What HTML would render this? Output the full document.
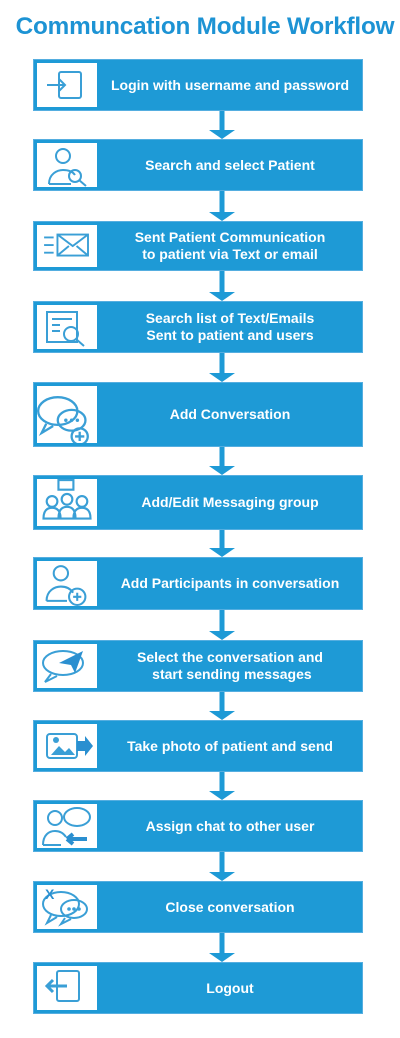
<!DOCTYPE html>
<html><head><meta charset="utf-8"><style>
body{margin:0;width:400px;height:1038px;background:#fff;position:relative;overflow:hidden;font-family:"Liberation Sans",Arial,sans-serif}
.title{position:absolute;top:13px;left:0;width:410px;text-align:center;font-size:24.3px;font-weight:bold;color:#1d93d4;letter-spacing:-0.2px}
.box{position:absolute;left:33px;width:328px;background:#1e9ad6;border:1px solid #55aee0}
.icon{position:absolute;left:3px;top:3px;bottom:3px;width:60px;background:#fff}
.icon svg{width:60px;height:100%}
.txt{position:absolute;left:64px;right:0;top:0;bottom:0;display:flex;align-items:center;justify-content:center;text-align:center;color:#fff;font-weight:bold;font-size:14px;line-height:17px}
.arrow{position:absolute;left:209px;width:26px}
</style></head><body>
<div class="title">Communcation Module Workflow</div>
<div id="flow"></div>
<script>
const steps=["Login with username and password","Search and select Patient","Sent Patient Communication<br>to patient via Text or email","Search list of Text/Emails<br>Sent to patient and users","Add Conversation","Add/Edit Messaging group","Add Participants in conversation","Select the conversation and<br>&nbsp;start sending messages","Take photo of patient and send","Assign chat to other user","Close conversation","Logout"];
const tops=[59,139,221,301,382,475,557,640,720,800,881,962];
const bottoms=[111,191,271,353,447,530,610,692,772,852,933,1014];
const names=["login","search-patient","send-communication","search-list","add-conversation","edit-group","add-participants","select-conversation","take-photo","assign-chat","close-conversation","logout"];
const S='fill="none" stroke="#3a9fd6" stroke-width="2"';
const icons=[
`<rect x="22" y="12" width="22" height="26" rx="2" ${S}/><path d="M10 25h18M22 19l6 6-6 6" ${S}/>`,
`<circle cx="26" cy="16" r="7" ${S}/><path d="M12 44c0-10 8-14 14-14s10 2 12 5" ${S}/><path d="M12 44h22" ${S}/><circle cx="38" cy="36" r="6" ${S}/><path d="M42 40l7 6" ${S}/>`,
`<path d="M6 16h10M6 24h10M6 32h10" ${S}/><rect x="20" y="13" width="32" height="22" ${S}/><path d="M20 13l16 12 16-12M20 35l12-10M52 35l-12-10" ${S}/>`,
`<rect x="10" y="10" width="30" height="30" ${S}/><path d="M15 17h20M15 23h8M15 29h8" ${S}/><circle cx="34" cy="32" r="7" ${S}/><path d="M39 37l8 7" ${S}/>`,
`<ellipse cx="22" cy="22" rx="17" ry="12" ${S}/><path d="M12 33l-4 8 10-6" ${S}/><ellipse cx="34" cy="30" rx="12" ry="9" ${S}/><circle cx="41" cy="44" r="7" ${S}/><path d="M41 40v8M37 44h8" ${S}/><circle cx="29" cy="30" r="1.5" fill="#3a9fd6"/><circle cx="34" cy="30" r="1.5" fill="#3a9fd6"/><circle cx="39" cy="30" r="1.5" fill="#3a9fd6"/>`,
`<rect x="22" y="4" width="14" height="9" ${S}/><circle cx="16" cy="24" r="5" ${S}/><circle cx="30" cy="22" r="5" ${S}/><circle cx="44" cy="24" r="5" ${S}/><path d="M8 40c0-8 4-10 8-10s8 2 8 10zM22 40c0-9 4-11 8-11s8 2 8 11zM36 40c0-8 4-10 8-10s8 2 8 10z" ${S}/>`,
`<circle cx="24" cy="15" r="7" ${S}/><path d="M10 42c0-10 8-14 14-14s10 3 12 6" ${S}/><path d="M10 42h20" ${S}/><circle cx="40" cy="38" r="8" ${S}/><path d="M40 34v8M36 38h8" ${S}/>`,
`<ellipse cx="26" cy="22" rx="20" ry="12" ${S}/><path d="M14 33l-6 8 12-6" ${S}/><path d="M22 22l24-12-8 22-4-8z" fill="#2a8fd0"/>`,
`<rect x="10" y="13" width="30" height="24" rx="3" ${S}/><path d="M14 34l8-9 6 6 4-4 6 7z" fill="#3a9fd6"/><circle cx="19" cy="19" r="3" fill="#3a9fd6"/><path d="M40 20h8v-5l8 10-8 10v-5h-8z" fill="#2a8fd0"/>`,
`<circle cx="18" cy="17" r="7" ${S}/><path d="M6 44c0-10 6-14 12-14s9 3 11 6" ${S}/><path d="M6 44h18" ${S}/><ellipse cx="40" cy="16" rx="13" ry="9" ${S}/><path d="M30 38h20M30 38l6-5M30 38l6 5" stroke="#2a8fd0" stroke-width="4" fill="none"/>`,
`<ellipse cx="24" cy="22" rx="18" ry="12" ${S}/><path d="M14 33l-4 8 10-6" ${S}/><ellipse cx="37" cy="27" rx="13" ry="9" ${S}/><path d="M28 36l-4 6 10-5" ${S}/><circle cx="32" cy="27" r="1.8" fill="#3a9fd6"/><circle cx="37" cy="27" r="1.8" fill="#3a9fd6"/><circle cx="42" cy="27" r="1.8" fill="#3a9fd6"/><text x="8" y="17" font-family="Liberation Sans" font-weight="bold" font-size="14" fill="#2a8fd0">X</text>`,
`<rect x="20" y="8" width="22" height="30" rx="2" ${S}/><path d="M30 23H10M16 17l-6 6 6 6" stroke="#3a9fd6" stroke-width="3" fill="none"/>`
];
const flow=document.getElementById('flow');
steps.forEach((t,i)=>{
  const b=document.createElement('div');
  b.className='box';
  b.style.top=tops[i]+'px';
  b.style.height=(bottoms[i]-tops[i]-2)+'px';
  
  
  b.innerHTML='<div class="icon"><svg viewBox="4 3 52 44" preserveAspectRatio="xMidYMid meet">'+icons[i]+'</svg></div><div class="txt">'+t+'</div>';
  b.querySelector('.icon');
  b.querySelector('.icon');
  b.querySelector('.txt');
  b.querySelector('.txt');
  flow.appendChild(b);
  if(i<steps.length-1){
    const a=document.createElementNS('http://www.w3.org/2000/svg','svg');
    const y0=bottoms[i], y1=tops[i+1];
    const hgt=y1-y0;
    a.setAttribute('class','arrow');
    a.setAttribute('width','26');a.setAttribute('height',hgt);
    a.style.top=y0+'px';
    a.innerHTML='<rect x="10.5" y="0" width="5" height="'+(hgt-8)+'" fill="#1e9ad6"/><polygon points="0,'+(hgt-9)+' 26,'+(hgt-9)+' 13,'+hgt+'" fill="#1e9ad6"/>';
    
    
    flow.appendChild(a);
  }
});
</script>
</body></html>
